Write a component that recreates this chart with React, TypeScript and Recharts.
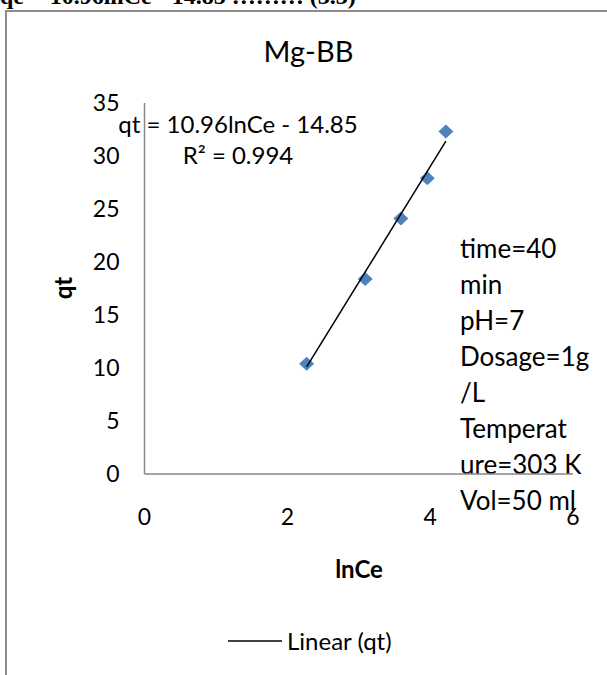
import React from "react";
import { ScatterChart, Scatter, XAxis, YAxis, Legend, Customized } from "recharts";

// Data
const lnCe = [2.27, 3.09, 3.59, 3.96, 4.22];
const qt = [10.4, 18.4, 24.1, 27.9, 32.3];
const trendLnCe = [2.27, 4.22];
const trendQt = [10.1, 31.4];
const xTicks = [0, 2, 4, 6];
const yTicks = [0, 5, 10, 15, 20, 25, 30, 35];
const chartTitle = "Mg-BB";
const equationLines = ["qt = 10.96lnCe - 14.85", "R² = 0.994"];
const conditionLines = ["time=40", "min", "pH=7", "Dosage=1g", "/L", "Temperat", "ure=303 K", "Vol=50 ml"];
const headerText = "qe = 10.96lnCe - 14.85 ……… (3.3)";
const xTitle = "lnCe";
const yTitle = "qt";
const trendName = "Linear (qt)";

const points = lnCe.map((x, i) => ({ x, y: qt[i] }));
const trend = trendLnCe.map((x, i) => ({ x, y: trendQt[i] }));

const FONT = "Lato, 'Open Sans', sans-serif";
const AXIS = "#868686";
const BLUE = "#4F81BD";

const Diamond = (props: any) => {
  const { cx, cy } = props;
  if (cx == null || cy == null) return null;
  return (
    <path
      d={`M${cx},${cy - 7} L${cx + 7.5},${cy} L${cx},${cy + 7} L${cx - 7.5},${cy} Z`}
      fill={BLUE}
    />
  );
};

const Overlay = () => (
  <g>
    <text x={0} y={4} fontFamily="'Liberation Serif', 'Times New Roman', serif" fontWeight="bold" fontSize={24} fill="#000">
      {headerText}
    </text>
    <line x1={5} y1={11} x2={607} y2={11} stroke="#8c8c8c" strokeWidth={2} />
    <line x1={6} y1={10} x2={6} y2={675} stroke="#8c8c8c" strokeWidth={2} />
    <text x={308.5} y={62} textAnchor="middle" fontFamily={FONT} fontSize={29} fill="#000">
      {chartTitle}
    </text>
    {equationLines.map((t, i) => (
      <text key={t} x={238} y={133 + i * 31} textAnchor="middle" fontFamily={FONT} fontSize={24} fill="#000">
        {t}
      </text>
    ))}
    {conditionLines.map((t, i) => (
      <text key={t} x={460} y={258 + i * 36} fontFamily={FONT} fontSize={26} fill="#000">
        {t}
      </text>
    ))}
    <text x={359} y={578} textAnchor="middle" fontFamily={FONT} fontWeight="bold" fontSize={24} fill="#000">
      {xTitle}
    </text>
    <text
      x={62}
      y={288}
      textAnchor="middle"
      dominantBaseline="central"
      transform="rotate(-90 62 288)"
      fontFamily={FONT}
      fontWeight="bold"
      fontSize={24}
      fill="#000"
    >
      {yTitle}
    </text>
  </g>
);

const LegendContent = (props: any) => {
  const items = (props.payload || []).filter((p: any) => p.type !== "none");
  return (
    <div style={{ display: "flex", alignItems: "center", paddingLeft: 228, fontFamily: FONT, fontSize: 24 }}>
      {items.map((p: any) => (
        <div key={p.value} style={{ display: "flex", alignItems: "center" }}>
          <svg width={54} height={4} style={{ display: "block" }}>
            <line x1={0} y1={2} x2={54} y2={2} stroke="#000" strokeWidth={1.5} />
          </svg>
          <span style={{ marginLeft: 5, color: "#000", lineHeight: "30px" }}>{p.value}</span>
        </div>
      ))}
    </div>
  );
};

export default function App() {
  return (
    <div style={{ position: "absolute", left: 0, top: 0, width: 607, height: 675, background: "#fff", fontFamily: FONT }}>
      <ScatterChart width={607} height={675} margin={{ top: 103, right: 34, bottom: 141, left: 0 }}>
        <XAxis
          type="number"
          dataKey="x"
          domain={[0, 6]}
          ticks={xTicks}
          tickLine={false}
          tickSize={0}
          tickMargin={35}
          height={60}
          axisLine={{ stroke: AXIS, strokeWidth: 1.5 }}
          tick={{ fill: "#000", fontSize: 23, fontFamily: FONT }}
          allowDataOverflow
        />
        <YAxis
          type="number"
          dataKey="y"
          domain={[0, 35]}
          ticks={yTicks}
          tickLine={false}
          tickSize={0}
          tickMargin={25}
          width={144.5}
          axisLine={{ stroke: AXIS, strokeWidth: 1.5 }}
          tick={{ fill: "#000", fontSize: 23, fontFamily: FONT }}
          allowDataOverflow
        />
        <Scatter name="qt" data={points} shape={<Diamond />} legendType="none" isAnimationActive={false} />
        <Scatter
          name={trendName}
          data={trend}
          line={{ stroke: "#000", strokeWidth: 1.5 }}
          shape={() => null}
          legendType="line"
          isAnimationActive={false}
        />
        <Legend
          layout="horizontal"
          verticalAlign="middle"
          align="center"
          wrapperStyle={{ top: 626, left: 0, width: 607, height: 30 }}
          content={<LegendContent />}
        />
        <Customized component={<Overlay />} />
      </ScatterChart>
    </div>
  );
}
